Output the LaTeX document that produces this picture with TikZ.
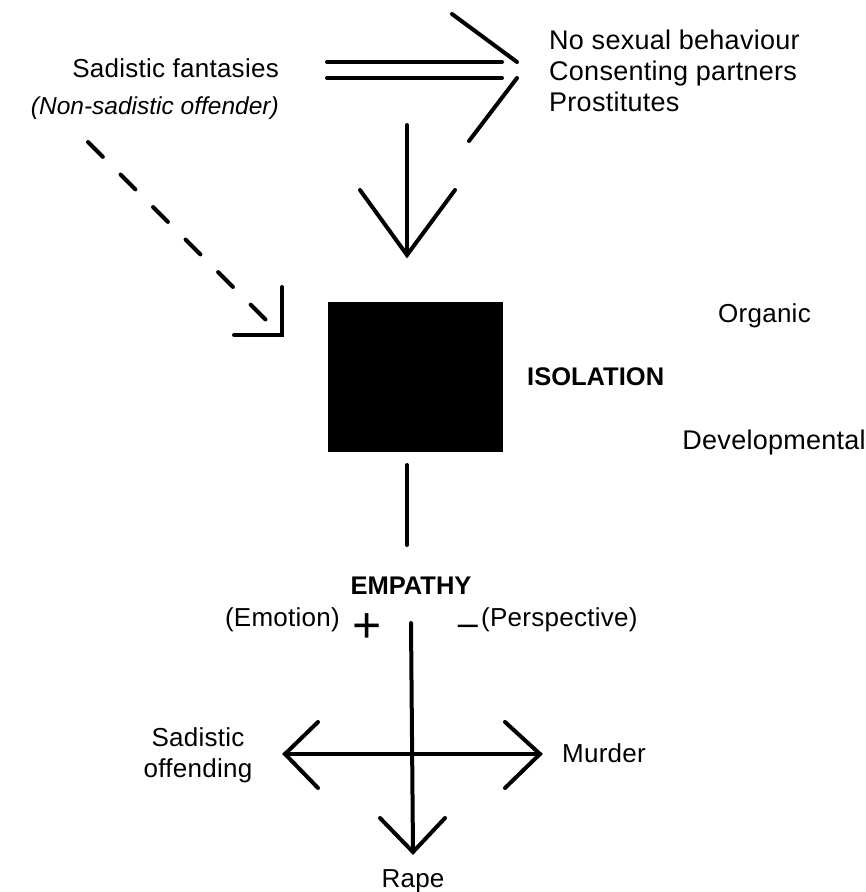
\documentclass[tikz,border=0pt]{standalone}
\usepackage{fontspec}
\setmainfont{Liberation Sans}
\newfontfamily\lblfont[LetterSpace=1]{Liberation Sans}
\begin{document}
\begin{tikzpicture}[x=1pt,y=-1pt,
  lbl/.style={inner sep=0pt, font=\lblfont\fontsize{26}{31}\selectfont},
  biglbl/.style={inner sep=0pt, font=\lblfont\fontsize{27}{31}\selectfont},
  itlbl/.style={inner sep=0pt, font=\fontsize{24.5}{31}\selectfont\itshape},
  bold/.style={inner sep=0pt, font=\fontsize{25.5}{31}\selectfont\bfseries},
  conn/.style={line width=4pt, line cap=round, line join=miter},
  dashconn/.style={conn, dash pattern=on 21pt off 25pt}]
\useasboundingbox (0,0) rectangle (866,892);

% texts
\node[lbl, anchor=base east] (fant) at (279,77) {Sadistic fantasies};
\node[itlbl, anchor=base east] (nonsad) at (279,114) {(Non-sadistic offender)};
\node[biglbl, anchor=base west] (nosex) at (549,49) {No sexual behaviour};
\node[biglbl, anchor=base west] (consent) at (549,80) {Consenting partners};
\node[biglbl, anchor=base west] (prost) at (549,111) {Prostitutes};
\node[lbl, anchor=base west] (organic) at (718,322) {Organic};
\node[bold, anchor=base west] (isolation) at (527,385) {ISOLATION};
\node[biglbl, anchor=base east] (devel) at (866,449) {Developmental};
\node[bold, anchor=base] (empathy) at (411,594) {EMPATHY};
\node[lbl, anchor=base east] (emotion) at (340,626) {(Emotion)};
\node[lbl, anchor=base west] (persp) at (481,626) {(Perspective)};
\node[inner sep=0pt, font=\fontsize{50}{50}\selectfont] (plus) at (367,628) {+};
\node[inner sep=0pt, font=\fontsize{36}{36}\selectfont] (minus) at (468,630) {–};
\node[lbl, anchor=base west] (murder) at (562,762) {Murder};
\node[lbl, anchor=base] (rape) at (413,887) {Rape};
\node[lbl, align=center, anchor=center] (sadoff) at (198,755) {Sadistic\\offending};

% isolation block
\node[fill=black, inner sep=0pt, minimum width=175pt, minimum height=150pt] (iso) at (415.5,377) {};

% coordinates
\coordinate (d1a) at (327,62); \coordinate (d1b) at (502,62);
\coordinate (d2a) at (327,78); \coordinate (d2b) at (502,78);
\coordinate (h1) at (452,14);  \coordinate (h1t) at (517,62);
\coordinate (h2t) at (517,78); \coordinate (h2) at (469,141);

\coordinate (va) at (407,125); \coordinate (vt) at (407,255);
\coordinate (vl) at (360,190); \coordinate (vr) at (455,190);

\coordinate (ds) at (88,142); \coordinate (de) at (268,322);
\coordinate (cv) at (282,287); \coordinate (cc) at (282,335); \coordinate (ch) at (234,335);

\coordinate (ia) at (407,465); \coordinate (ib) at (407,545);

\coordinate (ea) at (411,623); \coordinate (et) at (413,852);
\coordinate (etl) at (380,818); \coordinate (etr) at (445,818);
\coordinate (hl) at (285,754); \coordinate (hr) at (540,754);
\coordinate (hlu) at (318,722); \coordinate (hld) at (318,788);
\coordinate (hru) at (505,722); \coordinate (hrd) at (505,788);

% double arrow
\draw[conn] (d1a) -- (d1b);
\draw[conn] (d2a) -- (d2b);
\draw[conn] (h1) -- (h1t);
\draw[conn] (h2t) -- (h2);

% down arrow
\draw[conn] (va) -- (vt);
\draw[conn] (vl) -- (vt) -- (vr);

% dashed arrow
\draw[dashconn] (ds) -- (de);
\draw[conn] (cv) -- (cc) -- (ch);

% isolation to empathy
\draw[conn] (ia) -- (ib);

% empathy cross
\draw[conn] (ea) -- (et);
\draw[conn] (etl) -- (et) -- (etr);
\draw[conn] (hl) -- (hr);
\draw[conn] (hlu) -- (hl) -- (hld);
\draw[conn] (hru) -- (hr) -- (hrd);
\end{tikzpicture}
\end{document}
